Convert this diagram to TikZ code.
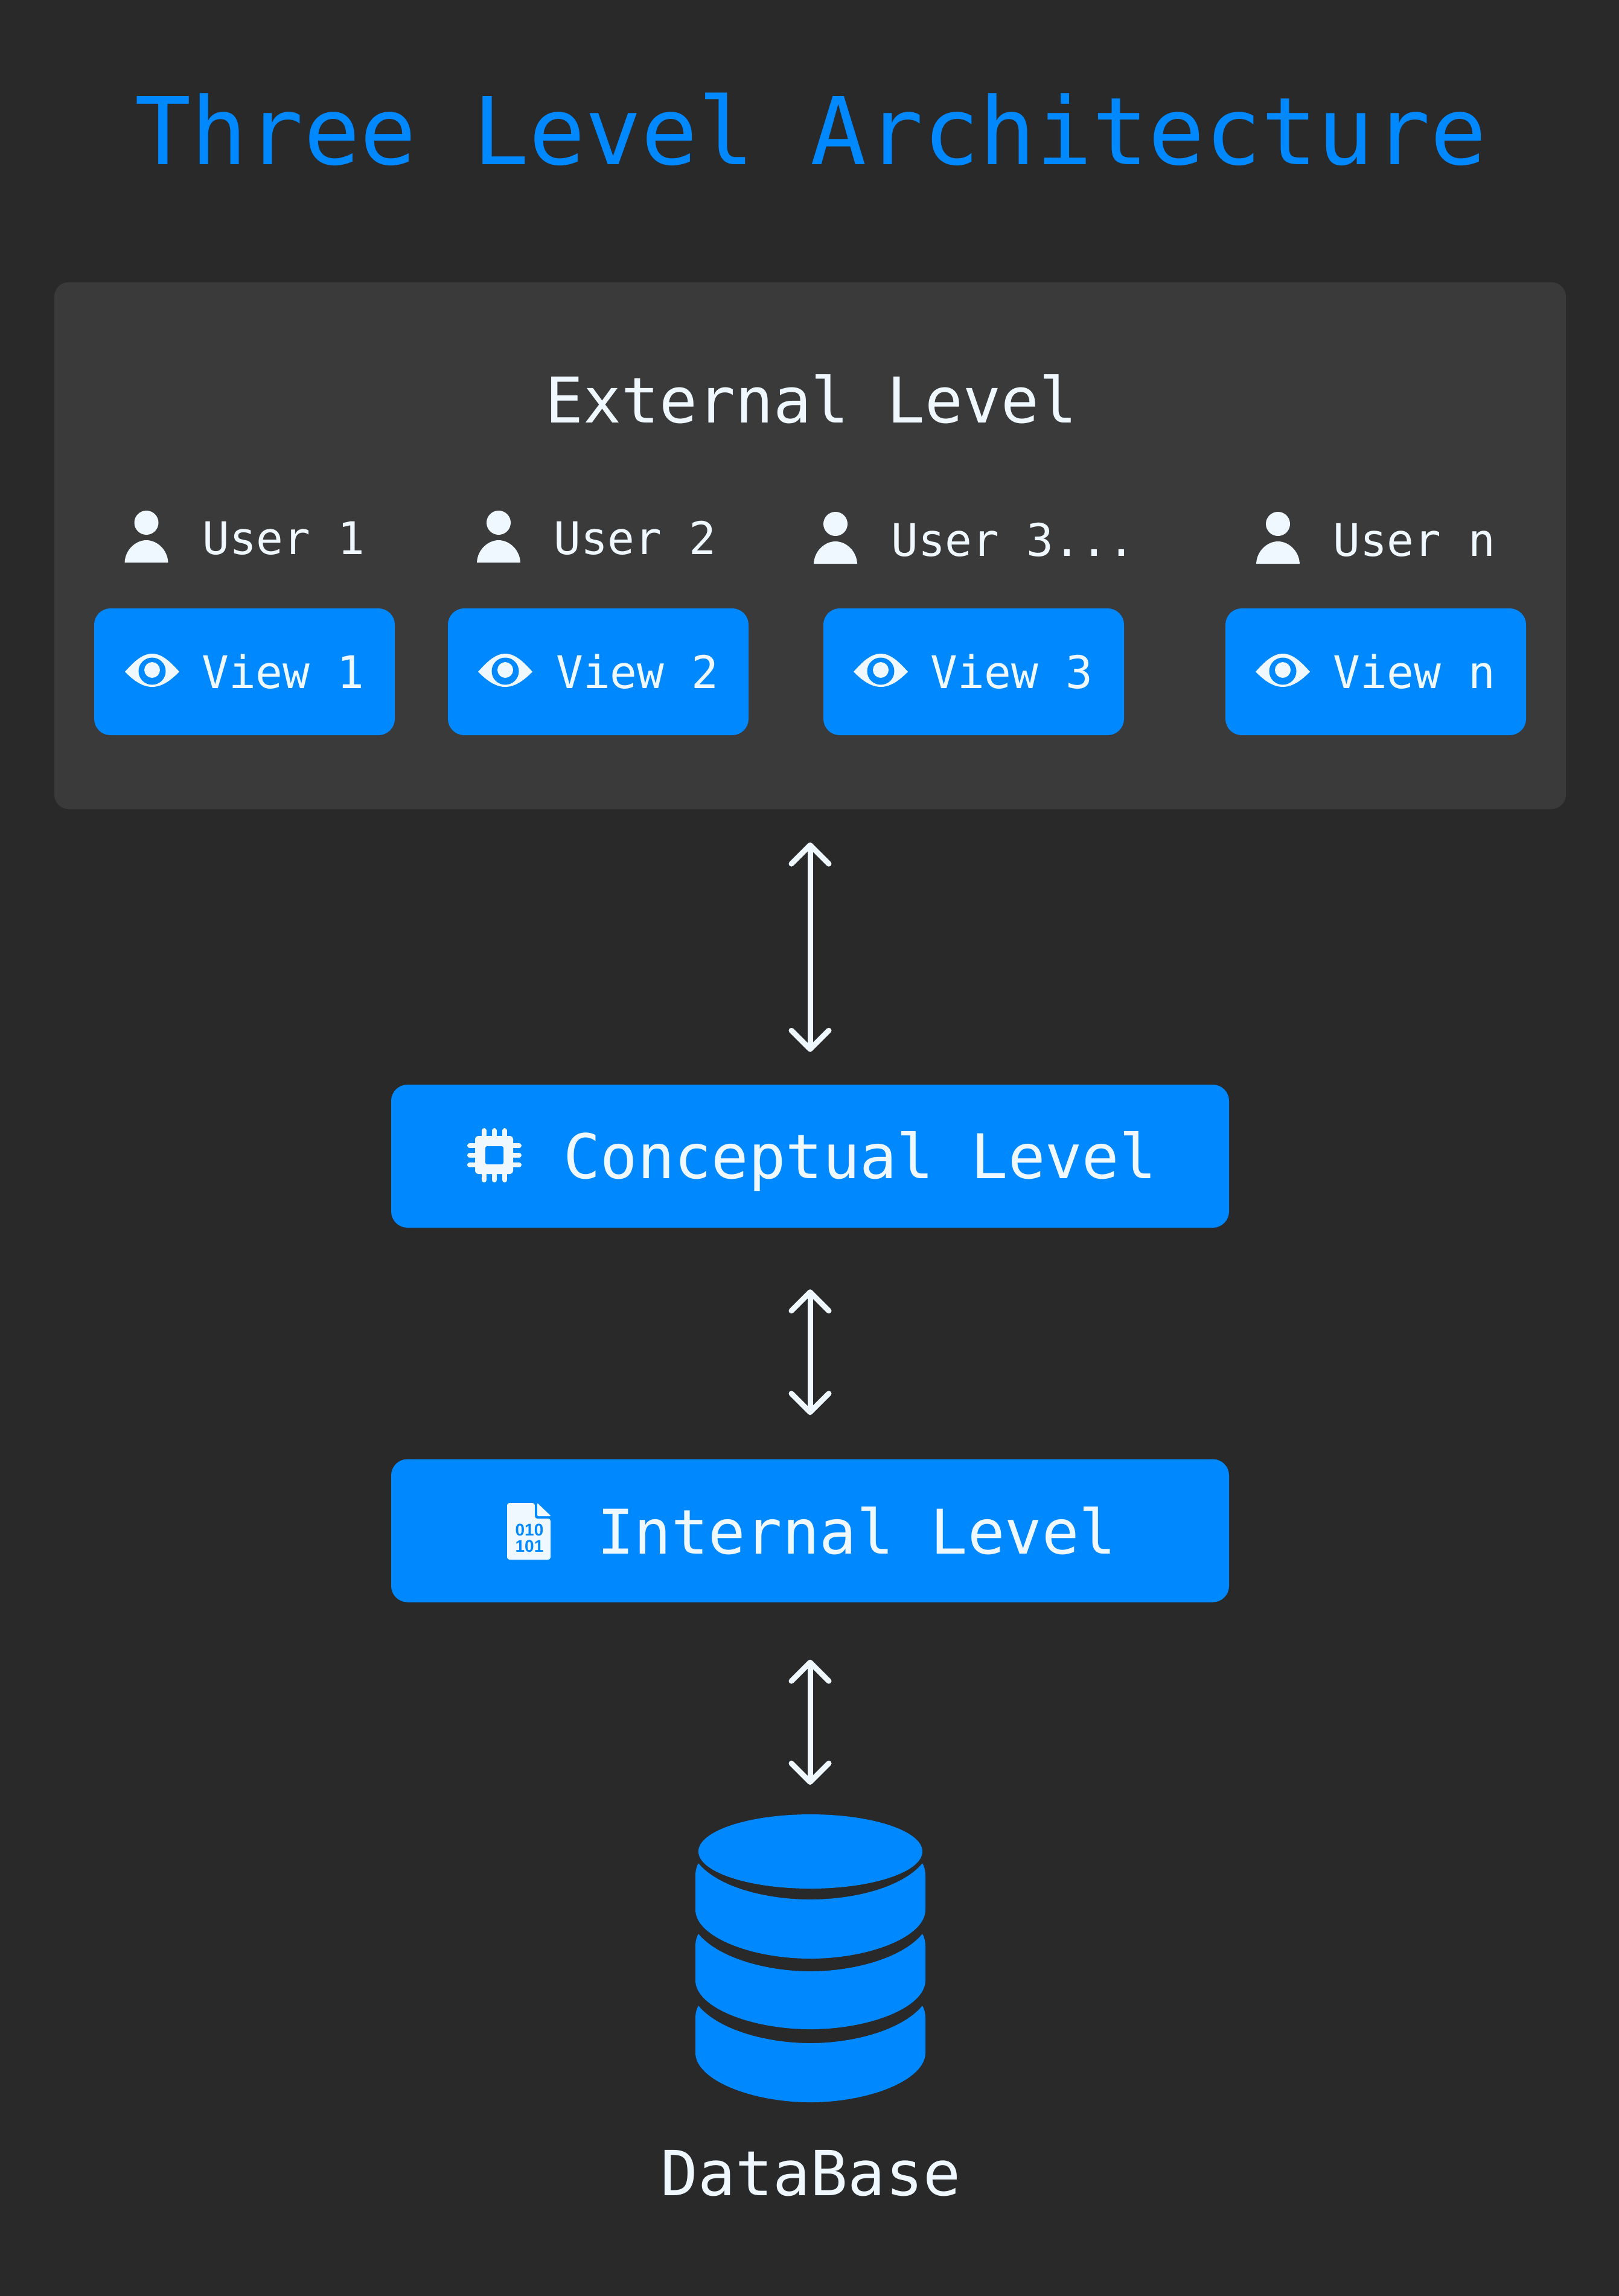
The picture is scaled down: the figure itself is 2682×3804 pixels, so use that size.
\documentclass[tikz,border=0pt]{standalone}
\usepackage{fontspec}
\setmainfont{DejaVu Sans Mono}
\newfontfamily\digitfont{Liberation Sans}[BoldFont={Liberation Sans Bold}]
\usetikzlibrary{arrows.meta}
\definecolor{bgc}{HTML}{292929}
\definecolor{panelc}{HTML}{3A3A3A}
\definecolor{bluec}{HTML}{0088FF}
\definecolor{inkc}{HTML}{F0F8FF}
\tikzset{
  panelbox/.style={fill=panelc,rounded corners=24pt,minimum width=2504pt,minimum height=873pt,inner sep=0pt},
  viewbox/.style={fill=bluec,rounded corners=27pt,minimum width=498pt,minimum height=210pt,inner sep=0pt},
  levelbox/.style={fill=bluec,rounded corners=27pt,minimum width=1388pt,minimum height=237pt,inner sep=0pt},
  txt/.style={anchor=base west,inner sep=0pt,text=inkc},
  smalltxt/.style={txt,font=\fontsize{74.5pt}{75pt}\selectfont},
  bigtxt/.style={txt,font=\fontsize{102pt}{103pt}\selectfont},
  titletxt/.style={anchor=base,inner sep=0pt,text=bluec,font=\fontsize{155pt}{156pt}\selectfont},
  link/.style={draw=inkc,line width=9pt,{Straight Barb[length=31pt,width=62pt,round]}-{Straight Barb[length=31pt,width=62pt,round]}},
}
\newcommand{\usericon}[2]{%
  \fill[inkc] (#1,#2-66) circle[radius=20pt];
  \fill[inkc] (#1-36,#2) .. controls (#1-35,#2-22) and (#1-17,#2-37) .. (#1,#2-37)
     .. controls (#1+17,#2-37) and (#1+35,#2-22) .. (#1+36,#2) -- cycle;
}
\newcommand{\eyeicon}[2]{%
  \fill[inkc] (#1-45,#2+3) .. controls (#1-30,#2-14) and (#1-16,#2-27) .. (#1,#2-27)
     .. controls (#1+16,#2-27) and (#1+30,#2-14) .. (#1+45,#2+3)
     .. controls (#1+30,#2+18) and (#1+16,#2+28) .. (#1,#2+28)
     .. controls (#1-16,#2+28) and (#1-30,#2+18) .. (#1-45,#2+3) -- cycle;
  \fill[bluec] (#1,#2+2) circle[radius=22.5pt];
  \fill[inkc] (#1,#2) circle[radius=13pt];
}
\newcommand{\layer}[4]{% top side y, concave centre y, side bottom y, bottom centre y
  \fill[bluec] (1157,#1) .. controls (1190,#1+40) and (1270,#2) .. (1342.5,#2)
    .. controls (1415,#2) and (1495,#1+40) .. (1528,#1)
    .. controls (1531,#1+5) and (1533,#1+12) .. (1533,#1+21) -- (1533,#3)
    .. controls (1533,#3+45) and (1440,#4) .. (1342.5,#4)
    .. controls (1245,#4) and (1152,#3+45) .. (1152,#3)
    -- (1152,#1+21) .. controls (1152,#1+12) and (1154,#1+5) .. (1157,#1) -- cycle;
}
\begin{document}
\begin{tikzpicture}[x=1pt,y=-1pt]
\useasboundingbox (0,0) rectangle (2682,3804);
\fill[bgc] (0,0) rectangle (2682,3804);
\node[titletxt] (title) at (1343,272) {Three Level Architecture};
\node[panelbox] (panel) at (1342,904) {};
\node[bigtxt,anchor=base,font=\fontsize{104.5pt}{105pt}\selectfont] (external) at (1344,700) {External Level};
% users
\usericon{242.5}{932}
\usericon{826}{932}
\usericon{1384}{934}
\usericon{2117}{934}
\node[smalltxt] (u1) at (335,918) {User 1};
\node[smalltxt] (u2) at (917,918) {User 2};
\node[smalltxt] (u3) at (1476,921) {User 3...};
\node[smalltxt] (un) at (2208,921) {User n};
% views
\node[viewbox] (v1) at (405,1113) {};
\node[viewbox] (v2) at (991,1113) {};
\node[viewbox] (v3) at (1613,1113) {};
\node[viewbox] (vn) at (2279,1113) {};
\eyeicon{252}{1110}
\eyeicon{837}{1110}
\eyeicon{1459}{1110}
\eyeicon{2125}{1110}
\node[smalltxt] (t1) at (334,1140) {View 1};
\node[smalltxt] (t2) at (921,1140) {View 2};
\node[smalltxt] (t3) at (1541,1140) {View 3};
\node[smalltxt] (tn) at (2208,1140) {View n};
% conceptual
\node[levelbox] (concept) at (1342,1915.5) {};
\node[bigtxt] (concepttxt) at (933,1952) {Conceptual Level};
\foreach \p in {802,819,836}{
  \draw[inkc,line width=8pt,line cap=round] (\p,1873) -- (\p,1955);
}
\foreach \p in {1898,1914,1930}{
  \draw[inkc,line width=8pt,line cap=round] (778,\p) -- (860,\p);
}
\fill[inkc,rounded corners=5pt] (787,1882) rectangle (850,1945);
\fill[bluec,rounded corners=3pt] (804,1899) rectangle (834,1929);
% internal
\node[levelbox] (internal) at (1342,2536) {};
\node[bigtxt] (internaltxt) at (989,2574) {Internal Level};
\fill[inkc,rounded corners=4pt] (840,2490) -- (886,2490) -- (886,2516) -- (912,2516) -- (912,2584) -- (840,2584) -- cycle;
\fill[bluec] (886,2510) -- (886,2490) -- (890,2490) -- (890,2510) -- cycle;
\fill[inkc,rounded corners=2pt] (890,2490) -- (890,2512) -- (913,2512) -- cycle;
\node[inner sep=0pt,text=bluec,font=\digitfont\bfseries\fontsize{28pt}{28pt}\selectfont] (bin1) at (877,2535) {010};
\node[inner sep=0pt,text=bluec,font=\digitfont\bfseries\fontsize{28pt}{28pt}\selectfont] (bin2) at (877,2562) {101};
% database
\layer{3323}{3385}{3401}{3483}
\layer{3204}{3266}{3281}{3362}
\layer{3087}{3147}{3164}{3245}
\fill[bluec] (1342.5,3067.5) ellipse[x radius=185.5pt,y radius=61.5pt];
\coordinate (dbtop) at (1342,3006);
\node[bigtxt,anchor=base,font=\fontsize{103pt}{103pt}\selectfont] (db) at (1343,3637) {DataBase};
% connectors
\draw[link,shorten <=55pt,shorten >=54pt] (panel.south) -- (concept.north);
\draw[link,shorten <=102pt,shorten >=73pt] (concept.south) -- (internal.north);
\draw[link,shorten <=95pt,shorten >=49pt] (internal.south) -- (dbtop);
\end{tikzpicture}
\end{document}
